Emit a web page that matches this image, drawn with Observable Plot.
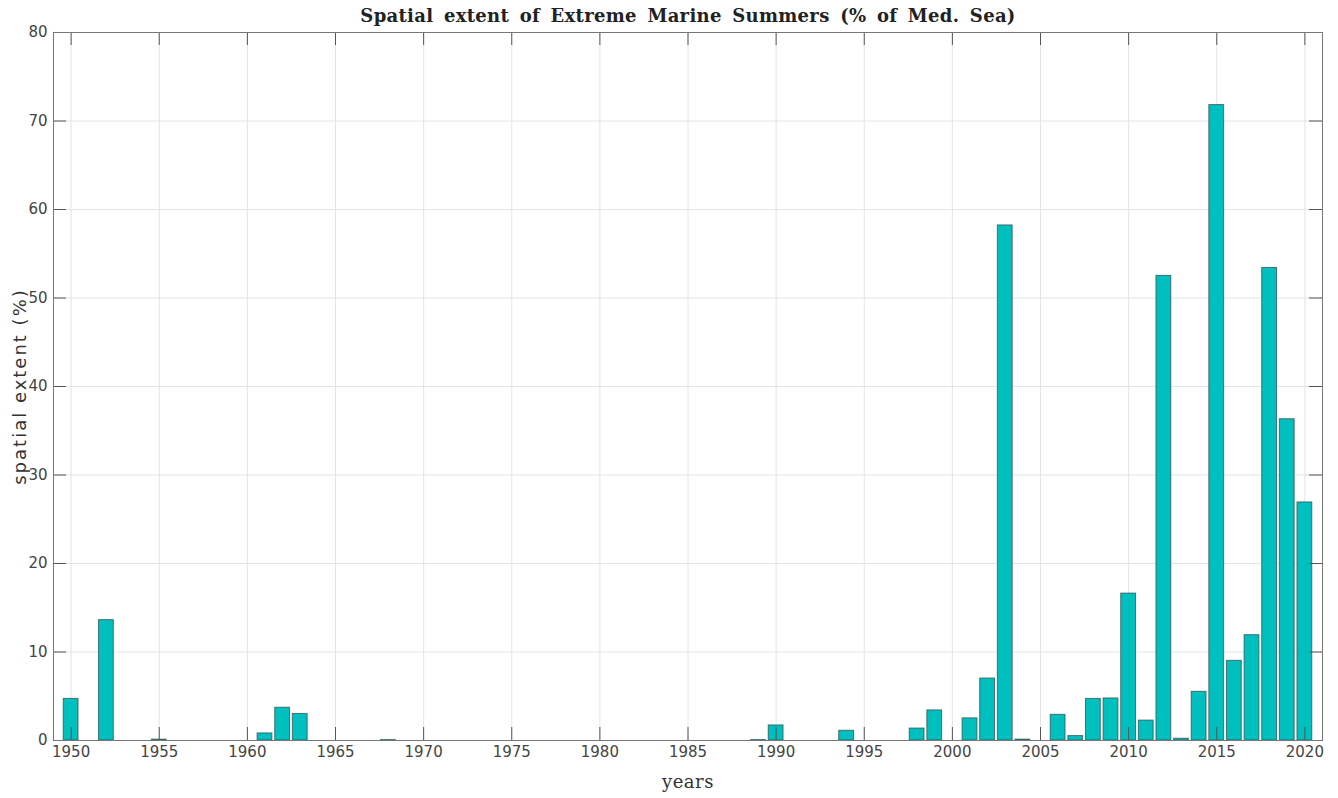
<!DOCTYPE html>
<html>
<head>
<meta charset="utf-8">
<script src="https://cdn.jsdelivr.net/npm/d3@7"></script>
<script src="https://cdn.jsdelivr.net/npm/@observablehq/plot@0.6"></script>
<style>
  html, body { margin: 0; padding: 0; background: #fff; }
</style>
</head>
<body>
<div id="chart"></div>
<script>
const years = [1950, 1952, 1955, 1961, 1962, 1963, 1968, 1989, 1990, 1994, 1998, 1999,
  2001, 2002, 2003, 2004, 2006, 2007, 2008, 2009, 2010, 2011, 2012, 2013, 2014,
  2015, 2016, 2017, 2018, 2019, 2020];
const extent = [4.7, 13.6, 0.1, 0.8, 3.7, 3.0, 0.05, 0.05, 1.7, 1.1, 1.35, 3.4,
  2.5, 7.0, 58.2, 0.1, 2.9, 0.5, 4.7, 4.75, 16.6, 2.25, 52.5, 0.2, 5.5,
  71.8, 9.0, 11.9, 53.4, 36.3, 26.9];
const xTicks = [1950, 1955, 1960, 1965, 1970, 1975, 1980, 1985, 1990, 1995, 2000, 2005, 2010, 2015, 2020];
const yTicks = [0, 10, 20, 30, 40, 50, 60, 70, 80];
const titleText = "Spatial extent of Extreme Marine Summers (% of Med. Sea)";
const xLabel = "years";
const yLabel = "spatial extent (%)";

const data = years.map((y, i) => ({year: y, value: extent[i]}));

const W = 1338, H = 798, mL = 53, mR = 16, mT = 32, mB = 58;
const pw = W - mL - mR, ph = H - mT - mB;
const tk = 13;

const chart = Plot.plot({
  width: W, height: H,
  marginLeft: mL, marginRight: mR, marginTop: mT, marginBottom: mB,
  style: {fontFamily: "DejaVu Sans", fontSize: "15px", color: "#444", background: "#fff", overflow: "visible"},
  x: {domain: [1949, 2021]},
  y: {domain: [0, 80]},
  marks: [
    Plot.gridX(xTicks, {stroke: "#e4e4e4", strokeOpacity: 1}),
    Plot.gridY(yTicks, {stroke: "#e4e4e4", strokeOpacity: 1}),
    Plot.rectY(data, {x1: d => d.year - 0.42, x2: d => d.year + 0.42, y: "value",
      fill: "#00BFBF", stroke: "#2f4f4f", strokeOpacity: 0.75, strokeWidth: 1}),
    Plot.tickX(xTicks, {x: d => d, insetTop: ph - tk, stroke: "#555"}),
    Plot.tickX(xTicks, {x: d => d, insetBottom: ph - tk, stroke: "#555"}),
    Plot.tickY(yTicks, {y: d => d, insetRight: pw - tk, stroke: "#555"}),
    Plot.tickY(yTicks, {y: d => d, insetLeft: pw - tk, stroke: "#555"}),
    Plot.frame({stroke: "#777"}),
    Plot.axisX(xTicks, {tickSize: 0, tickPadding: 6, tickFormat: d => String(d), label: null, fill: "#444"}),
    Plot.axisY(yTicks, {tickSize: 0, tickPadding: 6, label: null, fill: "#444"}),
    Plot.text([titleText], {text: d => d, frameAnchor: "top", dy: -16, fontFamily: "DejaVu Serif",
      fontWeight: "bold", fontSize: 18, fill: "#222", lineAnchor: "middle", textAnchor: "middle"}),
    Plot.text([xLabel], {text: d => d, frameAnchor: "bottom", dy: 42, fontFamily: "DejaVu Serif",
      fontSize: 18, fill: "#333", lineAnchor: "middle", textAnchor: "middle"}),
    Plot.text([yLabel], {text: d => d, frameAnchor: "left", dx: -33, rotate: -90, fontFamily: "DejaVu Sans",
      fontSize: 18, fill: "#333", lineAnchor: "middle", textAnchor: "middle"})
  ]
});
d3.select(chart).selectAll("text").each(function() {
  const t = this.textContent;
  if (t === titleText) d3.select(this).attr("letter-spacing", "0.3px").attr("word-spacing", "4px");
  if (t === yLabel) d3.select(this).attr("letter-spacing", "2px");
  if (t === xLabel) d3.select(this).attr("letter-spacing", "0.5px");
});
document.getElementById("chart").appendChild(chart);
</script>
</body>
</html>
